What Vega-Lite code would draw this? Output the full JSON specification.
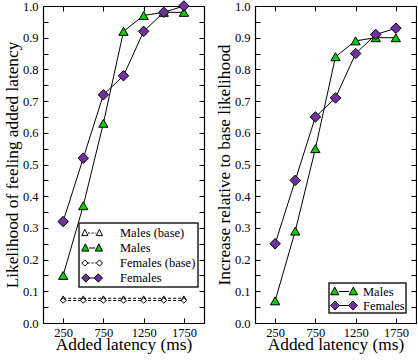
{
  "$schema": "https://vega.github.io/schema/vega-lite/v6.json",
  "padding": {"left": 2, "top": -2, "right": 0, "bottom": 0},
  "background": "white",
  "config": {
    "font": "Liberation Serif",
    "view": {"stroke": "black", "strokeWidth": 1},
    "axis": {"grid": false, "domainColor": "black", "domainWidth": 1.2, "tickColor": "black", "labelColor": "black", "titleColor": "black", "labelFont": "Liberation Serif", "titleFont": "Liberation Serif", "labelFontSize": 12.5, "titleFontSize": 17.3, "titleFontWeight": "normal", "tickSize": -5, "labelOverlap": false},
    "legend": {"labelFont": "Liberation Serif", "labelFontSize": 12.5, "labelColor": "black", "strokeWidth": 1.5}
  },
  "datasets": {
    "d": [
      {"panel": "L", "series": "Males (base)", "x": 250, "y": 0.078},
      {"panel": "L", "series": "Males (base)", "x": 500, "y": 0.078},
      {"panel": "L", "series": "Males (base)", "x": 750, "y": 0.078},
      {"panel": "L", "series": "Males (base)", "x": 1000, "y": 0.078},
      {"panel": "L", "series": "Males (base)", "x": 1250, "y": 0.078},
      {"panel": "L", "series": "Males (base)", "x": 1500, "y": 0.078},
      {"panel": "L", "series": "Males (base)", "x": 1750, "y": 0.078},
      {"panel": "L", "series": "Females (base)", "x": 250, "y": 0.071},
      {"panel": "L", "series": "Females (base)", "x": 500, "y": 0.071},
      {"panel": "L", "series": "Females (base)", "x": 750, "y": 0.071},
      {"panel": "L", "series": "Females (base)", "x": 1000, "y": 0.071},
      {"panel": "L", "series": "Females (base)", "x": 1250, "y": 0.071},
      {"panel": "L", "series": "Females (base)", "x": 1500, "y": 0.071},
      {"panel": "L", "series": "Females (base)", "x": 1750, "y": 0.071},
      {"panel": "L", "series": "Males", "x": 250, "y": 0.15},
      {"panel": "L", "series": "Males", "x": 500, "y": 0.37},
      {"panel": "L", "series": "Males", "x": 750, "y": 0.63},
      {"panel": "L", "series": "Males", "x": 1000, "y": 0.92},
      {"panel": "L", "series": "Males", "x": 1250, "y": 0.97},
      {"panel": "L", "series": "Males", "x": 1500, "y": 0.98},
      {"panel": "L", "series": "Males", "x": 1750, "y": 0.98},
      {"panel": "L", "series": "Females", "x": 250, "y": 0.32},
      {"panel": "L", "series": "Females", "x": 500, "y": 0.52},
      {"panel": "L", "series": "Females", "x": 750, "y": 0.72},
      {"panel": "L", "series": "Females", "x": 1000, "y": 0.78},
      {"panel": "L", "series": "Females", "x": 1250, "y": 0.92},
      {"panel": "L", "series": "Females", "x": 1500, "y": 0.98},
      {"panel": "L", "series": "Females", "x": 1750, "y": 1.0},
      {"panel": "R", "series": "Males", "x": 250, "y": 0.07},
      {"panel": "R", "series": "Males", "x": 500, "y": 0.29},
      {"panel": "R", "series": "Males", "x": 750, "y": 0.55},
      {"panel": "R", "series": "Males", "x": 1000, "y": 0.84},
      {"panel": "R", "series": "Males", "x": 1250, "y": 0.89},
      {"panel": "R", "series": "Males", "x": 1500, "y": 0.90},
      {"panel": "R", "series": "Males", "x": 1750, "y": 0.90},
      {"panel": "R", "series": "Females", "x": 250, "y": 0.25},
      {"panel": "R", "series": "Females", "x": 500, "y": 0.45},
      {"panel": "R", "series": "Females", "x": 750, "y": 0.65},
      {"panel": "R", "series": "Females", "x": 1000, "y": 0.71},
      {"panel": "R", "series": "Females", "x": 1250, "y": 0.85},
      {"panel": "R", "series": "Females", "x": 1500, "y": 0.91},
      {"panel": "R", "series": "Females", "x": 1750, "y": 0.93}
    ]
  },
  "bounds": "flush",
  "spacing": 51,
  "resolve": {"scale": {"fill": "independent", "shape": "independent"}, "legend": {"fill": "independent", "shape": "independent"}},
  "hconcat": [
    {
      "width": 161,
      "height": 317,
      "data": {"name": "d"},
      "transform": [{"filter": "datum.panel == 'L'"}],
      "resolve": {"axis": {"x": "independent", "y": "independent"}},
      "layer": [
        {
          "transform": [{"filter": "indexof(datum.series, 'base') >= 0"}],
          "mark": {"type": "line", "color": "black", "strokeWidth": 1, "strokeDash": [3, 2]},
          "encoding": {
            "x": {"field": "x", "type": "quantitative", "scale": {"domain": [0, 2000], "nice": false}, "axis": {"values": [250, 750, 1250, 1750], "format": "d", "title": "Added latency (ms)", "labelPadding": 8, "titlePadding": -3}},
            "y": {"field": "y", "type": "quantitative", "scale": {"domain": [0, 1], "nice": false}, "axis": {"values": [0, 0.05, 0.1, 0.15, 0.2, 0.25, 0.3, 0.35, 0.4, 0.45, 0.5, 0.55, 0.6, 0.65, 0.7, 0.75, 0.8, 0.85, 0.9, 0.95, 1.0], "labelExpr": "round(datum.value*100) % 10 == 0 ? format(datum.value, '.1f') : ''", "title": "Likelihood of feeling added latency", "labelPadding": 10, "titlePadding": 1}},
            "detail": {"field": "series"}
          }
        },
        {
          "transform": [{"filter": "indexof(datum.series, 'base') < 0"}],
          "mark": {"type": "line", "color": "black", "strokeWidth": 1},
          "encoding": {
            "x": {"field": "x", "type": "quantitative", "axis": {"orient": "top", "values": [250, 750, 1250, 1750], "labels": false, "title": null}},
            "y": {"field": "y", "type": "quantitative", "axis": {"orient": "right", "values": [0, 0.05, 0.1, 0.15, 0.2, 0.25, 0.3, 0.35, 0.4, 0.45, 0.5, 0.55, 0.6, 0.65, 0.7, 0.75, 0.8, 0.85, 0.9, 0.95, 1.0], "labels": false, "title": null}},
            "detail": {"field": "series"}
          }
        },
        {
          "transform": [{"filter": "datum.series == 'Males (base)'"}],
          "mark": {"type": "point", "shape": "triangle-up", "filled": true, "fill": "white", "stroke": "black", "strokeWidth": 1, "size": 30, "opacity": 1},
          "encoding": {
            "x": {"field": "x", "type": "quantitative", "axis": null},
            "y": {"field": "y", "type": "quantitative", "axis": null}
          }
        },
        {
          "transform": [{"filter": "datum.series == 'Females (base)'"}],
          "mark": {"type": "point", "shape": "diamond", "filled": true, "fill": "white", "stroke": "black", "strokeWidth": 1, "size": 30, "opacity": 1},
          "encoding": {
            "x": {"field": "x", "type": "quantitative", "axis": null},
            "y": {"field": "y", "type": "quantitative", "axis": null}
          }
        },
        {
          "transform": [{"filter": "datum.series == 'Males'"}],
          "mark": {"type": "point", "shape": "triangle-up", "filled": true, "fill": "#00cc00", "stroke": "black", "strokeWidth": 1, "size": 85, "opacity": 1},
          "encoding": {
            "x": {"field": "x", "type": "quantitative", "axis": null},
            "y": {"field": "y", "type": "quantitative", "axis": null}
          }
        },
        {
          "transform": [{"filter": "datum.series == 'Females'"}],
          "mark": {"type": "point", "shape": "diamond", "filled": true, "fill": "#7030a0", "stroke": "black", "strokeWidth": 1, "size": 110, "opacity": 1},
          "encoding": {
            "x": {"field": "x", "type": "quantitative", "axis": null},
            "y": {"field": "y", "type": "quantitative", "axis": null}
          }
        },
        {
          "transform": [{"filter": "datum.y > 5"}],
          "mark": {"type": "point", "filled": true, "stroke": "black", "strokeWidth": 1, "opacity": 1},
          "encoding": {
            "x": {"field": "x", "type": "quantitative", "axis": null},
            "y": {"field": "y", "type": "quantitative", "axis": null},
            "fill": {"field": "series", "scale": {"domain": ["Males (base)", "Males", "Females (base)", "Females"], "range": ["white", "#00cc00", "white", "#7030a0"]}, "legend": {"orient": "none", "legendX": 36, "legendY": 217, "title": null, "fillColor": "white", "strokeColor": "#222", "padding": 2, "rowPadding": -1, "labelOffset": 23, "symbolSize": 210, "symbolStrokeColor": "black", "symbolStrokeWidth": 1, "symbolOpacity": 1}},
            "shape": {"field": "series", "scale": {"domain": ["Males (base)", "Males", "Females (base)", "Females"], "range": [
              "M-0.14,0L0.14,0M0.36,0L0.64,0M0.86,0L1,0M-1,0.36L-0.14,0.36L-0.57,-0.5ZM1,0.36L1.86,0.36L1.43,-0.5Z",
              "M0,0L0.86,0M-1,0.43L0,0.43L-0.5,-0.57ZM0.86,0.43L1.86,0.43L1.36,-0.57Z",
              "M-0.14,0L0.14,0M0.36,0L0.64,0M0.86,0L1,0M-1,0L-0.57,-0.43L-0.14,0L-0.57,0.43ZM1,0L1.43,-0.43L1.86,0L1.43,0.43Z",
              "M0.14,0L0.71,0M-1,0L-0.43,-0.57L0.14,0L-0.43,0.57ZM0.71,0L1.29,-0.57L1.86,0L1.29,0.57Z"
            ]}}
          }
        }
      ]
    },
    {
      "width": 161,
      "height": 317,
      "data": {"name": "d"},
      "transform": [{"filter": "datum.panel == 'R'"}],
      "resolve": {"axis": {"x": "independent", "y": "independent"}},
      "layer": [
        {
          "mark": {"type": "line", "color": "black", "strokeWidth": 1},
          "encoding": {
            "x": {"field": "x", "type": "quantitative", "scale": {"domain": [0, 2000], "nice": false}, "axis": {"values": [250, 750, 1250, 1750], "format": "d", "title": "Added latency (ms)", "labelPadding": 8, "titlePadding": -3}},
            "y": {"field": "y", "type": "quantitative", "scale": {"domain": [0, 1], "nice": false}, "axis": {"values": [0, 0.05, 0.1, 0.15, 0.2, 0.25, 0.3, 0.35, 0.4, 0.45, 0.5, 0.55, 0.6, 0.65, 0.7, 0.75, 0.8, 0.85, 0.9, 0.95, 1.0], "labelExpr": "round(datum.value*100) % 10 == 0 ? format(datum.value, '.1f') : ''", "title": "Increase relative to base likelihood", "labelPadding": 10, "titlePadding": 1}},
            "detail": {"field": "series"}
          }
        },
        {
          "transform": [{"filter": "datum.series == 'Males'"}],
          "mark": {"type": "point", "shape": "triangle-up", "filled": true, "fill": "#00cc00", "stroke": "black", "strokeWidth": 1, "size": 85, "opacity": 1},
          "encoding": {
            "x": {"field": "x", "type": "quantitative", "axis": {"orient": "top", "values": [250, 750, 1250, 1750], "labels": false, "title": null}},
            "y": {"field": "y", "type": "quantitative", "axis": {"orient": "right", "values": [0, 0.05, 0.1, 0.15, 0.2, 0.25, 0.3, 0.35, 0.4, 0.45, 0.5, 0.55, 0.6, 0.65, 0.7, 0.75, 0.8, 0.85, 0.9, 0.95, 1.0], "labels": false, "title": null}}
          }
        },
        {
          "transform": [{"filter": "datum.series == 'Females'"}],
          "mark": {"type": "point", "shape": "diamond", "filled": true, "fill": "#7030a0", "stroke": "black", "strokeWidth": 1, "size": 110, "opacity": 1},
          "encoding": {
            "x": {"field": "x", "type": "quantitative", "axis": null},
            "y": {"field": "y", "type": "quantitative", "axis": null}
          }
        },
        {
          "transform": [{"filter": "datum.y > 5"}],
          "mark": {"type": "point", "filled": true, "stroke": "black", "strokeWidth": 1, "opacity": 1},
          "encoding": {
            "x": {"field": "x", "type": "quantitative", "axis": null},
            "y": {"field": "y", "type": "quantitative", "axis": null},
            "fill": {"field": "series", "scale": {"domain": ["Males", "Females"], "range": ["#00cc00", "#7030a0"]}, "legend": {"orient": "none", "legendX": 74, "legendY": 277, "title": null, "fillColor": "white", "strokeColor": "#222", "padding": 1, "rowPadding": -1, "labelOffset": 18, "symbolSize": 196, "symbolStrokeColor": "black", "symbolStrokeWidth": 1, "symbolOpacity": 1}},
            "shape": {"field": "series", "scale": {"domain": ["Males", "Females"], "range": [
              "M0.2,0L1.66,0M-1,0.47L0.2,0.47L-0.4,-0.64ZM1.66,0.47L2.86,0.47L2.26,-0.64Z",
              "M0.29,0L1.57,0M-1,0L-0.36,-0.64L0.29,0L-0.36,0.64ZM1.57,0L2.21,-0.64L2.86,0L2.21,0.64Z"
            ]}}
          }
        }
      ]
    }
  ]
}
